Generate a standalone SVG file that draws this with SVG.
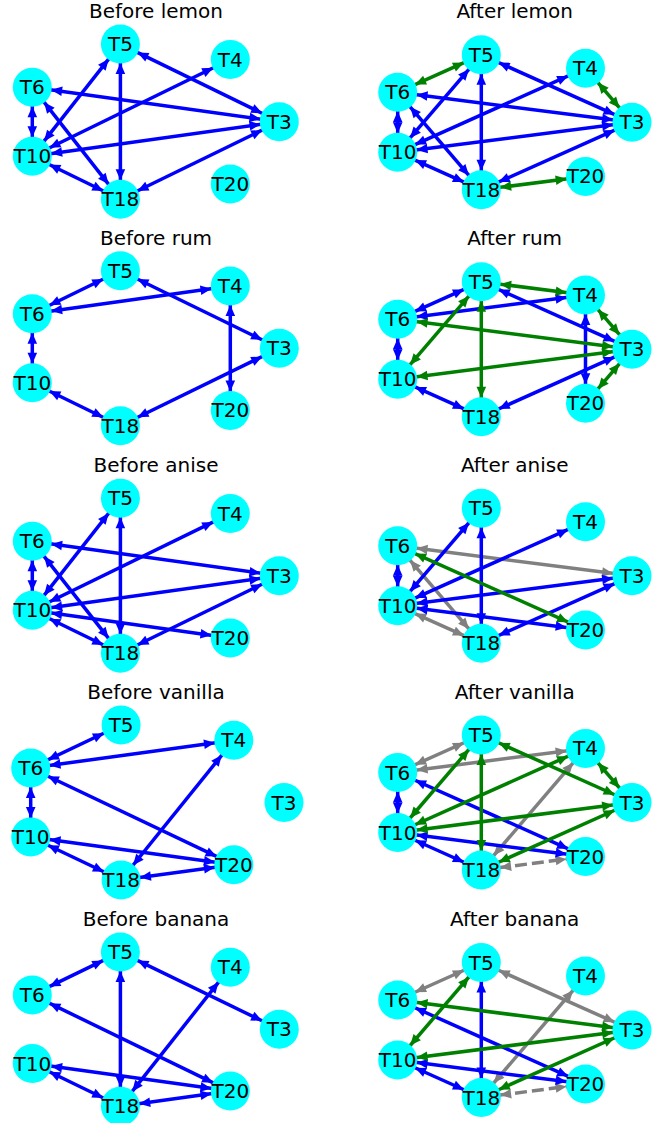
<svg xmlns="http://www.w3.org/2000/svg" width="664" height="1123" viewBox="0 0 664 1123">
<style>
.e{fill:none;stroke-width:3.5}
.b{stroke:#0000ff;marker-start:url(#sb);marker-end:url(#eb)}
.g{stroke:#008000;marker-start:url(#sg);marker-end:url(#eg)}
.k{stroke:#808080;marker-start:url(#sk);marker-end:url(#ek)}
.d{stroke-dasharray:12 5}
.t{font-family:"DejaVu Sans",sans-serif;font-size:20px;fill:#000;text-anchor:middle}
.n circle{fill:#00ffff}
.n text{font-family:"DejaVu Sans",sans-serif;font-size:20px;fill:#000;text-anchor:middle}
</style>
<defs>
<marker id="eb" markerUnits="userSpaceOnUse" orient="auto" refX="19" refY="0" markerWidth="40" markerHeight="40" overflow="visible"><path d="M0,0 L-11,-4.8 L-11,4.8 Z" fill="#0000ff"/></marker>
<marker id="sb" markerUnits="userSpaceOnUse" orient="auto" refX="-19" refY="0" markerWidth="40" markerHeight="40" overflow="visible"><path d="M0,0 L11,-4.8 L11,4.8 Z" fill="#0000ff"/></marker>
<marker id="eg" markerUnits="userSpaceOnUse" orient="auto" refX="19" refY="0" markerWidth="40" markerHeight="40" overflow="visible"><path d="M0,0 L-11,-4.8 L-11,4.8 Z" fill="#008000"/></marker>
<marker id="sg" markerUnits="userSpaceOnUse" orient="auto" refX="-19" refY="0" markerWidth="40" markerHeight="40" overflow="visible"><path d="M0,0 L11,-4.8 L11,4.8 Z" fill="#008000"/></marker>
<marker id="ek" markerUnits="userSpaceOnUse" orient="auto" refX="19" refY="0" markerWidth="40" markerHeight="40" overflow="visible"><path d="M0,0 L-11,-4.8 L-11,4.8 Z" fill="#808080"/></marker>
<marker id="sk" markerUnits="userSpaceOnUse" orient="auto" refX="-19" refY="0" markerWidth="40" markerHeight="40" overflow="visible"><path d="M0,0 L11,-4.8 L11,4.8 Z" fill="#808080"/></marker>
</defs>
<rect width="664" height="1123" fill="#fff"/>
<g id="titles">
<text class="t" x="156" y="18.3">Before lemon</text>
<text class="t" x="514.7" y="18.3">After lemon</text>
<text class="t" x="156" y="245">Before rum</text>
<text class="t" x="514.7" y="245">After rum</text>
<text class="t" x="156" y="471.7">Before anise</text>
<text class="t" x="514.7" y="471.7">After anise</text>
<text class="t" x="156" y="699">Before vanilla</text>
<text class="t" x="514.7" y="699">After vanilla</text>
<text class="t" x="156" y="926.3">Before banana</text>
<text class="t" x="514.7" y="926.3">After banana</text>
</g>
<g id="connectors">
<!-- P1 Before lemon -->
<line class="e b" x1="120.4" y1="44.1" x2="279.3" y2="121.7"/>
<line class="e b" x1="120.4" y1="44.1" x2="32.3" y2="156.2"/>
<line class="e b" x1="120.4" y1="44.1" x2="120.4" y2="199.3"/>
<line class="e b" x1="230.3" y1="59.5" x2="32.3" y2="156.2"/>
<line class="e b" x1="32.3" y1="87.2" x2="279.3" y2="121.7"/>
<line class="e b" x1="32.3" y1="87.2" x2="32.3" y2="156.2"/>
<line class="e b" x1="32.3" y1="87.2" x2="120.4" y2="199.3"/>
<line class="e b" x1="32.3" y1="156.2" x2="279.3" y2="121.7"/>
<line class="e b" x1="120.4" y1="199.3" x2="279.3" y2="121.7"/>
<line class="e b" x1="32.3" y1="156.2" x2="120.4" y2="199.3"/>
<!-- P2 After lemon -->
<line class="e g" x1="481.3" y1="54.8" x2="397.7" y2="92.3"/>
<line class="e b" x1="481.3" y1="54.8" x2="397.7" y2="152.3"/>
<line class="e b" x1="481.3" y1="54.8" x2="481.3" y2="189.8"/>
<line class="e b" x1="481.3" y1="54.8" x2="632" y2="122.3"/>
<line class="e b" x1="585.5" y1="68.2" x2="397.7" y2="152.3"/>
<line class="e g" x1="585.5" y1="68.2" x2="632" y2="122.3"/>
<line class="e b" x1="397.7" y1="92.3" x2="632" y2="122.3"/>
<line class="e b" x1="397.7" y1="92.3" x2="397.7" y2="152.3"/>
<line class="e b" x1="397.7" y1="92.3" x2="481.3" y2="189.8"/>
<line class="e b" x1="397.7" y1="152.3" x2="632" y2="122.3"/>
<line class="e b" x1="397.7" y1="152.3" x2="481.3" y2="189.8"/>
<line class="e b" x1="481.3" y1="189.8" x2="632" y2="122.3"/>
<line class="e g" x1="481.3" y1="189.8" x2="585.5" y2="176.4"/>
<!-- P3 Before rum -->
<line class="e b" x1="120.4" y1="270.7" x2="32.3" y2="313.7"/>
<line class="e b" x1="120.4" y1="270.7" x2="279.3" y2="348.2"/>
<line class="e b" x1="230.3" y1="286" x2="32.3" y2="313.7"/>
<line class="e b" x1="230.3" y1="286" x2="230.3" y2="410.4"/>
<line class="e b" x1="32.3" y1="313.7" x2="32.3" y2="382.7"/>
<line class="e b" x1="32.3" y1="382.7" x2="120.4" y2="425.7"/>
<line class="e b" x1="120.4" y1="425.7" x2="279.3" y2="348.2"/>
<!-- P4 After rum -->
<line class="e b" x1="481.3" y1="281.7" x2="397.7" y2="319.2"/>
<line class="e b" x1="481.3" y1="281.7" x2="632" y2="349.2"/>
<line class="e b" x1="585.5" y1="295.1" x2="397.7" y2="319.2"/>
<line class="e b" x1="585.5" y1="295.1" x2="585.5" y2="403.3"/>
<line class="e b" x1="397.7" y1="319.2" x2="397.7" y2="379.2"/>
<line class="e b" x1="397.7" y1="379.2" x2="481.3" y2="416.7"/>
<line class="e b" x1="481.3" y1="416.7" x2="632" y2="349.2"/>
<line class="e g" x1="481.3" y1="281.7" x2="585.5" y2="295.1"/>
<line class="e g" x1="481.3" y1="281.7" x2="397.7" y2="379.2"/>
<line class="e g" x1="481.3" y1="281.7" x2="481.3" y2="416.7"/>
<line class="e g" x1="585.5" y1="295.1" x2="632" y2="349.2"/>
<line class="e g" x1="397.7" y1="319.2" x2="632" y2="349.2"/>
<line class="e g" x1="397.7" y1="379.2" x2="632" y2="349.2"/>
<line class="e g" x1="585.5" y1="403.3" x2="632" y2="349.2"/>
<!-- P5 Before anise -->
<line class="e b" x1="120.4" y1="498.3" x2="32.3" y2="610.3"/>
<line class="e b" x1="120.4" y1="498.3" x2="120.4" y2="653.3"/>
<line class="e b" x1="230.3" y1="513.6" x2="32.3" y2="610.3"/>
<line class="e b" x1="32.3" y1="541.3" x2="279.3" y2="575.8"/>
<line class="e b" x1="32.3" y1="541.3" x2="32.3" y2="610.3"/>
<line class="e b" x1="32.3" y1="541.3" x2="120.4" y2="653.3"/>
<line class="e b" x1="32.3" y1="610.3" x2="279.3" y2="575.8"/>
<line class="e b" x1="32.3" y1="610.3" x2="120.4" y2="653.3"/>
<line class="e b" x1="32.3" y1="610.3" x2="230.3" y2="638"/>
<line class="e b" x1="120.4" y1="653.3" x2="279.3" y2="575.8"/>
<!-- P6 After anise -->
<line class="e k" x1="397.7" y1="545.8" x2="632" y2="575.8"/>
<line class="e k" x1="397.7" y1="545.8" x2="481.3" y2="643.3"/>
<line class="e k" x1="397.7" y1="605.8" x2="481.3" y2="643.3"/>
<line class="e b" x1="481.3" y1="508.3" x2="397.7" y2="605.8"/>
<line class="e b" x1="481.3" y1="508.3" x2="481.3" y2="643.3"/>
<line class="e b" x1="585.5" y1="521.7" x2="397.7" y2="605.8"/>
<line class="e b" x1="397.7" y1="545.8" x2="397.7" y2="605.8"/>
<line class="e b" x1="397.7" y1="605.8" x2="632" y2="575.8"/>
<line class="e b" x1="397.7" y1="605.8" x2="585.5" y2="629.9"/>
<line class="e b" x1="481.3" y1="643.3" x2="632" y2="575.8"/>
<line class="e g" x1="397.7" y1="545.8" x2="585.5" y2="629.9"/>
<!-- P7 Before vanilla -->
<line class="e b" x1="121.1" y1="725" x2="30.7" y2="768"/>
<line class="e b" x1="233.8" y1="740.3" x2="30.7" y2="768"/>
<line class="e b" x1="233.8" y1="740.3" x2="121.1" y2="880"/>
<line class="e b" x1="30.7" y1="768" x2="30.7" y2="837"/>
<line class="e b" x1="30.7" y1="768" x2="233.8" y2="864.7"/>
<line class="e b" x1="30.7" y1="837" x2="233.8" y2="864.7"/>
<line class="e b" x1="30.7" y1="837" x2="121.1" y2="880"/>
<line class="e b" x1="121.1" y1="880" x2="233.8" y2="864.7"/>
<!-- P8 After vanilla -->
<line class="e k" x1="481.3" y1="735" x2="397.7" y2="772.5"/>
<line class="e k" x1="585.5" y1="748.4" x2="397.7" y2="772.5"/>
<line class="e k" x1="585.5" y1="748.4" x2="481.3" y2="870"/>
<line class="e k d" x1="481.3" y1="870" x2="585.5" y2="856.6"/>
<line class="e b" x1="397.7" y1="772.5" x2="397.7" y2="832.5"/>
<line class="e b" x1="397.7" y1="772.5" x2="585.5" y2="856.6"/>
<line class="e b" x1="397.7" y1="832.5" x2="585.5" y2="856.6"/>
<line class="e b" x1="397.7" y1="832.5" x2="481.3" y2="870"/>
<line class="e g" x1="481.3" y1="735" x2="397.7" y2="832.5"/>
<line class="e g" x1="481.3" y1="735" x2="481.3" y2="870"/>
<line class="e g" x1="481.3" y1="735" x2="632" y2="802.5"/>
<line class="e g" x1="585.5" y1="748.4" x2="397.7" y2="832.5"/>
<line class="e g" x1="585.5" y1="748.4" x2="632" y2="802.5"/>
<line class="e g" x1="397.7" y1="832.5" x2="632" y2="802.5"/>
<line class="e g" x1="481.3" y1="870" x2="632" y2="802.5"/>
<!-- P9 Before banana -->
<line class="e b" x1="120.4" y1="952.1" x2="32.3" y2="994.9"/>
<line class="e b" x1="120.4" y1="952.1" x2="279.3" y2="1029.2"/>
<line class="e b" x1="120.4" y1="952.1" x2="120.4" y2="1106.3"/>
<line class="e b" x1="230.3" y1="967.3" x2="120.4" y2="1106.3"/>
<line class="e b" x1="32.3" y1="994.9" x2="230.3" y2="1091.1"/>
<line class="e b" x1="32.3" y1="1063.5" x2="230.3" y2="1091.1"/>
<line class="e b" x1="32.3" y1="1063.5" x2="120.4" y2="1106.3"/>
<line class="e b" x1="120.4" y1="1106.3" x2="230.3" y2="1091.1"/>
<!-- P10 After banana -->
<line class="e k" x1="481.3" y1="962.5" x2="397.7" y2="1000"/>
<line class="e k" x1="481.3" y1="962.5" x2="632" y2="1030"/>
<line class="e k" x1="585.5" y1="975.9" x2="481.3" y2="1097.5"/>
<line class="e k d" x1="481.3" y1="1097.5" x2="585.5" y2="1084.1"/>
<line class="e b" x1="481.3" y1="962.5" x2="481.3" y2="1097.5"/>
<line class="e b" x1="397.7" y1="1000" x2="585.5" y2="1084.1"/>
<line class="e b" x1="397.7" y1="1060" x2="585.5" y2="1084.1"/>
<line class="e b" x1="397.7" y1="1060" x2="481.3" y2="1097.5"/>
<line class="e g" x1="481.3" y1="962.5" x2="397.7" y2="1060"/>
<line class="e g" x1="397.7" y1="1000" x2="632" y2="1030"/>
<line class="e g" x1="397.7" y1="1060" x2="632" y2="1030"/>
<line class="e g" x1="481.3" y1="1097.5" x2="632" y2="1030"/>
</g>
<g id="nodes">
<!-- P1 -->
<g id="p1-T3" class="n" transform="translate(279.3,121.7)"><circle r="19.5"/><text y="7">T3</text></g>
<g id="p1-T4" class="n" transform="translate(230.3,59.5)"><circle r="19.5"/><text y="7">T4</text></g>
<g id="p1-T5" class="n" transform="translate(120.4,44.1)"><circle r="19.5"/><text y="7">T5</text></g>
<g id="p1-T6" class="n" transform="translate(32.3,87.2)"><circle r="19.5"/><text y="7">T6</text></g>
<g id="p1-T10" class="n" transform="translate(32.3,156.2)"><circle r="19.5"/><text y="7">T10</text></g>
<g id="p1-T18" class="n" transform="translate(120.4,199.3)"><circle r="19.5"/><text y="7">T18</text></g>
<g id="p1-T20" class="n" transform="translate(230.3,183.9)"><circle r="19.5"/><text y="7">T20</text></g>
<!-- P2 -->
<g id="p2-T3" class="n" transform="translate(632,122.3)"><circle r="19.5"/><text y="7">T3</text></g>
<g id="p2-T4" class="n" transform="translate(585.5,68.2)"><circle r="19.5"/><text y="7">T4</text></g>
<g id="p2-T5" class="n" transform="translate(481.3,54.8)"><circle r="19.5"/><text y="7">T5</text></g>
<g id="p2-T6" class="n" transform="translate(397.7,92.3)"><circle r="19.5"/><text y="7">T6</text></g>
<g id="p2-T10" class="n" transform="translate(397.7,152.3)"><circle r="19.5"/><text y="7">T10</text></g>
<g id="p2-T18" class="n" transform="translate(481.3,189.8)"><circle r="19.5"/><text y="7">T18</text></g>
<g id="p2-T20" class="n" transform="translate(585.5,176.4)"><circle r="19.5"/><text y="7">T20</text></g>
<!-- P3 -->
<g id="p3-T3" class="n" transform="translate(279.3,348.2)"><circle r="19.5"/><text y="7">T3</text></g>
<g id="p3-T4" class="n" transform="translate(230.3,286)"><circle r="19.5"/><text y="7">T4</text></g>
<g id="p3-T5" class="n" transform="translate(120.4,270.7)"><circle r="19.5"/><text y="7">T5</text></g>
<g id="p3-T6" class="n" transform="translate(32.3,313.7)"><circle r="19.5"/><text y="7">T6</text></g>
<g id="p3-T10" class="n" transform="translate(32.3,382.7)"><circle r="19.5"/><text y="7">T10</text></g>
<g id="p3-T18" class="n" transform="translate(120.4,425.7)"><circle r="19.5"/><text y="7">T18</text></g>
<g id="p3-T20" class="n" transform="translate(230.3,410.4)"><circle r="19.5"/><text y="7">T20</text></g>
<!-- P4 -->
<g id="p4-T3" class="n" transform="translate(632,349.2)"><circle r="19.5"/><text y="7">T3</text></g>
<g id="p4-T4" class="n" transform="translate(585.5,295.1)"><circle r="19.5"/><text y="7">T4</text></g>
<g id="p4-T5" class="n" transform="translate(481.3,281.7)"><circle r="19.5"/><text y="7">T5</text></g>
<g id="p4-T6" class="n" transform="translate(397.7,319.2)"><circle r="19.5"/><text y="7">T6</text></g>
<g id="p4-T10" class="n" transform="translate(397.7,379.2)"><circle r="19.5"/><text y="7">T10</text></g>
<g id="p4-T18" class="n" transform="translate(481.3,416.7)"><circle r="19.5"/><text y="7">T18</text></g>
<g id="p4-T20" class="n" transform="translate(585.5,403.3)"><circle r="19.5"/><text y="7">T20</text></g>
<!-- P5 -->
<g id="p5-T3" class="n" transform="translate(279.3,575.8)"><circle r="19.5"/><text y="7">T3</text></g>
<g id="p5-T4" class="n" transform="translate(230.3,513.6)"><circle r="19.5"/><text y="7">T4</text></g>
<g id="p5-T5" class="n" transform="translate(120.4,498.3)"><circle r="19.5"/><text y="7">T5</text></g>
<g id="p5-T6" class="n" transform="translate(32.3,541.3)"><circle r="19.5"/><text y="7">T6</text></g>
<g id="p5-T10" class="n" transform="translate(32.3,610.3)"><circle r="19.5"/><text y="7">T10</text></g>
<g id="p5-T18" class="n" transform="translate(120.4,653.3)"><circle r="19.5"/><text y="7">T18</text></g>
<g id="p5-T20" class="n" transform="translate(230.3,638)"><circle r="19.5"/><text y="7">T20</text></g>
<!-- P6 -->
<g id="p6-T3" class="n" transform="translate(632,575.8)"><circle r="19.5"/><text y="7">T3</text></g>
<g id="p6-T4" class="n" transform="translate(585.5,521.7)"><circle r="19.5"/><text y="7">T4</text></g>
<g id="p6-T5" class="n" transform="translate(481.3,508.3)"><circle r="19.5"/><text y="7">T5</text></g>
<g id="p6-T6" class="n" transform="translate(397.7,545.8)"><circle r="19.5"/><text y="7">T6</text></g>
<g id="p6-T10" class="n" transform="translate(397.7,605.8)"><circle r="19.5"/><text y="7">T10</text></g>
<g id="p6-T18" class="n" transform="translate(481.3,643.3)"><circle r="19.5"/><text y="7">T18</text></g>
<g id="p6-T20" class="n" transform="translate(585.5,629.9)"><circle r="19.5"/><text y="7">T20</text></g>
<!-- P7 -->
<g id="p7-T3" class="n" transform="translate(284,802.5)"><circle r="19.5"/><text y="7">T3</text></g>
<g id="p7-T4" class="n" transform="translate(233.8,740.3)"><circle r="19.5"/><text y="7">T4</text></g>
<g id="p7-T5" class="n" transform="translate(121.1,725)"><circle r="19.5"/><text y="7">T5</text></g>
<g id="p7-T6" class="n" transform="translate(30.7,768)"><circle r="19.5"/><text y="7">T6</text></g>
<g id="p7-T10" class="n" transform="translate(30.7,837)"><circle r="19.5"/><text y="7">T10</text></g>
<g id="p7-T18" class="n" transform="translate(121.1,880)"><circle r="19.5"/><text y="7">T18</text></g>
<g id="p7-T20" class="n" transform="translate(233.8,864.7)"><circle r="19.5"/><text y="7">T20</text></g>
<!-- P8 -->
<g id="p8-T3" class="n" transform="translate(632,802.5)"><circle r="19.5"/><text y="7">T3</text></g>
<g id="p8-T4" class="n" transform="translate(585.5,748.4)"><circle r="19.5"/><text y="7">T4</text></g>
<g id="p8-T5" class="n" transform="translate(481.3,735)"><circle r="19.5"/><text y="7">T5</text></g>
<g id="p8-T6" class="n" transform="translate(397.7,772.5)"><circle r="19.5"/><text y="7">T6</text></g>
<g id="p8-T10" class="n" transform="translate(397.7,832.5)"><circle r="19.5"/><text y="7">T10</text></g>
<g id="p8-T18" class="n" transform="translate(481.3,870)"><circle r="19.5"/><text y="7">T18</text></g>
<g id="p8-T20" class="n" transform="translate(585.5,856.6)"><circle r="19.5"/><text y="7">T20</text></g>
<!-- P9 -->
<g id="p9-T3" class="n" transform="translate(279.3,1029.2)"><circle r="19.5"/><text y="7">T3</text></g>
<g id="p9-T4" class="n" transform="translate(230.3,967.3)"><circle r="19.5"/><text y="7">T4</text></g>
<g id="p9-T5" class="n" transform="translate(120.4,952.1)"><circle r="19.5"/><text y="7">T5</text></g>
<g id="p9-T6" class="n" transform="translate(32.3,994.9)"><circle r="19.5"/><text y="7">T6</text></g>
<g id="p9-T10" class="n" transform="translate(32.3,1063.5)"><circle r="19.5"/><text y="7">T10</text></g>
<g id="p9-T18" class="n" transform="translate(120.4,1106.3)"><circle r="19.5"/><text y="7">T18</text></g>
<g id="p9-T20" class="n" transform="translate(230.3,1091.1)"><circle r="19.5"/><text y="7">T20</text></g>
<!-- P10 -->
<g id="p10-T3" class="n" transform="translate(632,1030)"><circle r="19.5"/><text y="7">T3</text></g>
<g id="p10-T4" class="n" transform="translate(585.5,975.9)"><circle r="19.5"/><text y="7">T4</text></g>
<g id="p10-T5" class="n" transform="translate(481.3,962.5)"><circle r="19.5"/><text y="7">T5</text></g>
<g id="p10-T6" class="n" transform="translate(397.7,1000)"><circle r="19.5"/><text y="7">T6</text></g>
<g id="p10-T10" class="n" transform="translate(397.7,1060)"><circle r="19.5"/><text y="7">T10</text></g>
<g id="p10-T18" class="n" transform="translate(481.3,1097.5)"><circle r="19.5"/><text y="7">T18</text></g>
<g id="p10-T20" class="n" transform="translate(585.5,1084.1)"><circle r="19.5"/><text y="7">T20</text></g>
</g>
</svg>
